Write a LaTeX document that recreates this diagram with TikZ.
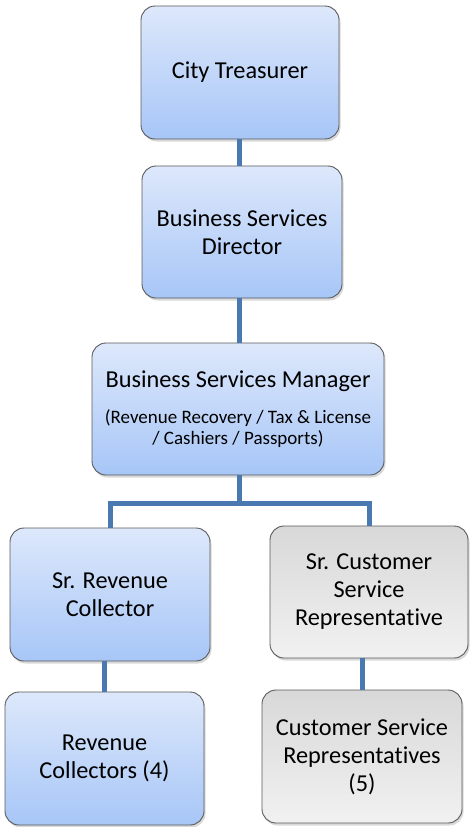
\documentclass[tikz,border=0pt]{standalone}
\usepackage{fontspec}
\setmainfont[Ligatures={NoCommon}]{Carlito}
\usetikzlibrary{shadows}
\definecolor{bluetop}{HTML}{DDE8FB}
\definecolor{bluebot}{HTML}{A7C6F7}
\definecolor{greytop}{HTML}{D8D8D8}
\definecolor{greybot}{HTML}{F1F1F1}
\definecolor{edgegrey}{HTML}{5A5A5A}
\definecolor{linkblue}{HTML}{4A78B0}
\newcommand\subfs{\fontsize{19}{21}\selectfont}
\tikzset{
  orgbox/.style={rectangle, rounded corners=14pt, draw=edgegrey, line width=0.9pt,
    align=center, inner sep=0pt,
    font=\fontsize{24.3}{28}\selectfont,
    drop shadow={opacity=0.3, shadow xshift=1.5pt, shadow yshift=-2.5pt}},
  bluebox/.style={orgbox, top color=bluetop, bottom color=bluebot},
  greybox/.style={orgbox, top color=greytop, bottom color=greybot},
  link/.style={draw=linkblue, line width=5pt}
}
\begin{document}
\begin{tikzpicture}[x=1pt,y=-1pt]
\useasboundingbox (0,0) rectangle (469,827);
\node[bluebox, minimum width=198pt, minimum height=133pt] (b1) at (240,72.5) {City Treasurer};
\node[bluebox, minimum width=200pt, minimum height=132pt] (b2) at (242,232) {Business Services\\Director};
\node[bluebox, minimum width=292pt, minimum height=132pt] (b3) at (238,409)
  {Business Services Manager\\[8pt]{\subfs (Revenue Recovery / Tax \& License}\\[-7pt]{\subfs / Cashiers / Passports)}};
\node[bluebox, minimum width=200pt, minimum height=133pt] (b4) at (110,594.5) {Sr. Revenue\\Collector};
\node[greybox, minimum width=198pt, minimum height=132pt] (b5) at (369,592) {Sr. Customer\\Service\\Representative};
\node[bluebox, minimum width=199pt, minimum height=133pt] (b6) at (104.5,758.5) {Revenue\\Collectors (4)};
\node[greybox, minimum width=200pt, minimum height=133pt] (b7) at (362,756.5) {Customer Service\\Representatives\\(5)};
\coordinate (fork) at (239,503);
\path[link] (b2.north -| 239,0) -- (b1.south -| 239,0);
\path[link] (b3.north -| 239,0) -- (b2.south -| 239,0);
\path[link] (b3.south -| fork) -- (fork);
\path[link, line join=miter] (b4.north) |- (fork) -| (b5.north);
\path[link] (b6.north) -- (b6.north |- b4.south);
\path[link] (b7.north) -- (b7.north |- b5.south);
\end{tikzpicture}
\end{document}
